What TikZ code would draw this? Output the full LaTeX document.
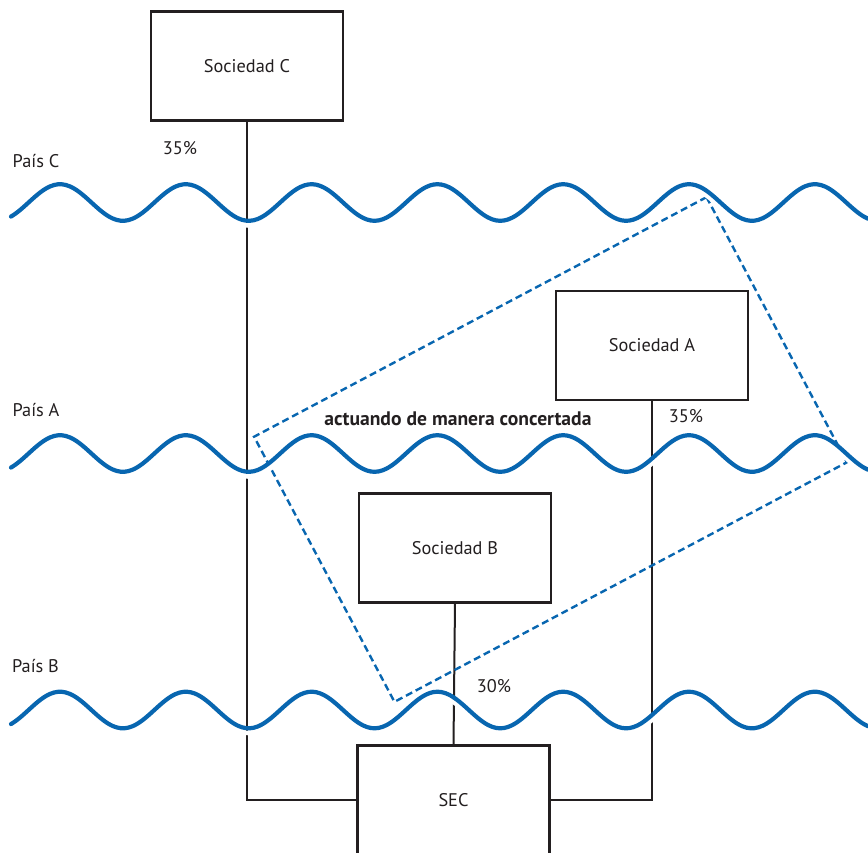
\documentclass[tikz,border=0pt]{standalone}
\usepackage{fontspec}
\setmainfont{PT Sans}
\begin{document}
\definecolor{ink}{RGB}{35,31,32}
\definecolor{river}{RGB}{8,102,176}
\begin{tikzpicture}[x=1pt,y=-1pt,
  entity/.style={draw=ink,line width=2.3pt,minimum width=192pt,minimum height=109pt,
    inner sep=0pt,text=ink,font=\fontsize{18.3}{21}\selectfont},
  label/.style={text=ink,font=\fontsize{18.3}{21}\selectfont,inner sep=0pt},
  link/.style={draw=ink,line width=2pt},
  border/.style={draw=river,line width=4.2pt,line cap=round},
  halo/.style={draw=white,line width=4.5pt},
  group/.style={draw=river,line width=2.4pt,dash pattern=on 7pt off 4pt,
    minimum width=512pt,minimum height=300pt,inner sep=0pt,rotate=27.9}]
\useasboundingbox (0,0) rectangle (868,852);
\clip (0,0) rectangle (868,852);

% companies
\node[entity] (socC) at (247,66) {Sociedad C};
\node[entity] (socA) at (652,345.5) {Sociedad A};
\node[entity] (socB) at (455,548) {Sociedad B};
\node[entity] (sec)  at (453.5,800) {SEC};

% ownership links
\draw[link] (socC.south) |- (sec.west);
\draw[link] (socA.south) |- (sec.east);
\draw[link] (socB.south) -- (sec.north);

% companies acting in concert
\node[group] (concert) at (550.5,449.5) {};

% country borders: one wave period is 125.8 units (360/125.8 = 2.8617 deg per unit)
\foreach \c in {202.5,453.5,710}{
  \draw[halo] plot[domain=11:868,samples=220,smooth] (\x,{\c+4.8-18.3*cos(2.8617*(\x-60))});
  \draw[border] plot[domain=11:868,samples=220,smooth] (\x,{\c-18.3*cos(2.8617*(\x-60))});
}

% texts
\node[label] (paisC) at (36,161) {País C};
\node[label] (paisA) at (36,410.5) {País A};
\node[label] (paisB) at (35.5,666.5) {País B};
\node[label] (pC) at (180,148.5) {35\%};
\node[label] (pA) at (686,416) {35\%};
\node[label] (pB) at (494,686) {30\%};
\node[label,font=\fontsize{19.6}{22}\selectfont\bfseries] (concertLabel) at (458,419) {actuando de manera concertada};
\end{tikzpicture}
\end{document}
